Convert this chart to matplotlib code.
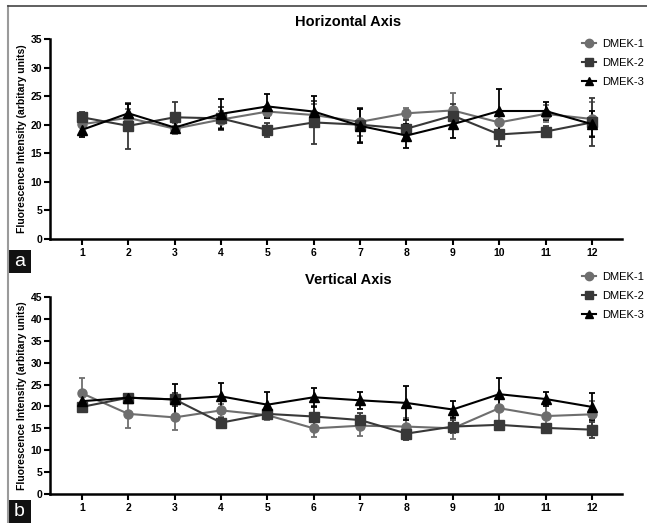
import matplotlib
matplotlib.use("Agg")
import matplotlib.pyplot as plt
import numpy as np
from matplotlib.patches import Rectangle
from matplotlib.lines import Line2D

# positions along the axis
positions = np.arange(1, 13)
series_names = ["DMEK-1", "DMEK-2", "DMEK-3"]

# horizontal axis (panel a): means and SD
h_dmek1 = [20.1, 21.2, 19.3, 20.9, 22.3, 21.7, 20.5, 22.0, 22.5, 20.4, 21.9, 21.0]
h_dmek2 = [21.3, 19.8, 21.3, 21.1, 19.1, 20.4, 20.0, 19.3, 21.6, 18.3, 18.8, 20.4]
h_dmek3 = [19.1, 22.0, 19.5, 21.9, 23.2, 22.3, 19.8, 18.1, 20.1, 22.4, 22.4, 20.1]
h_sd1 = [1.5, 1.5, 1.0, 1.5, 1.0, 2.0, 2.5, 1.0, 3.0, 2.0, 1.5, 3.0]
h_sd2 = [1.0, 4.0, 2.7, 2.0, 1.2, 3.7, 3.0, 1.5, 2.0, 2.0, 0.9, 4.2]
h_sd3 = [1.2, 1.6, 1.0, 2.6, 2.1, 2.7, 3.0, 2.1, 2.5, 3.8, 1.5, 2.3]

# vertical axis (panel b): means and SD
v_dmek1 = [23.0, 18.3, 17.5, 19.1, 18.0, 15.0, 15.6, 15.4, 15.0, 19.6, 17.8, 18.2]
v_dmek2 = [19.9, 22.0, 21.6, 16.3, 18.3, 17.7, 16.9, 13.8, 15.4, 15.8, 15.1, 14.7]
v_dmek3 = [21.2, 22.0, 21.6, 22.3, 20.4, 22.1, 21.4, 20.8, 19.3, 22.8, 21.7, 19.9]
v_sd1 = [3.5, 3.3, 2.8, 1.5, 1.0, 2.0, 2.3, 2.0, 2.5, 3.0, 3.0, 3.0]
v_sd2 = [0.8, 0.5, 1.5, 1.0, 1.0, 2.5, 1.6, 1.5, 1.5, 0.6, 1.0, 1.8]
v_sd3 = [1.5, 0.5, 3.5, 3.0, 2.8, 2.2, 1.9, 3.9, 1.9, 3.8, 1.6, 3.1]

colors = ["#6e6e6e", "#383838", "#000000"]
markers = ["o", "s", "^"]

plt.rcParams['font.family'] = ['Liberation Sans', 'DejaVu Sans']

fig = plt.figure(figsize=(6.47, 5.23), dpi=100)
W, H = 647, 523


def px_axes(left, top, right, bottom):
    return fig.add_axes([left / W, 1 - bottom / H, (right - left) / W, (bottom - top) / H])


def draw_panel(ax, means, sds, ymax, title, title_y, legend_top):
    for m, s, c, mk in zip(means, sds, colors, markers):
        ax.errorbar(positions, m, yerr=s, color=c, marker=mk, markersize=6.5,
                    linewidth=1.5, elinewidth=1.3, capsize=2.5, capthick=1.3)
    ax.set_xlim(0.31, 12.65)
    ax.set_ylim(0, ymax)
    ax.set_xticks(positions)
    ax.set_yticks(np.arange(0, ymax + 1, 5))
    for sp in ["top", "right"]:
        ax.spines[sp].set_visible(False)
    for sp in ["left", "bottom"]:
        ax.spines[sp].set_linewidth(1.8)
    ax.tick_params(width=1.5, length=4, labelsize=7.5, pad=1.5)
    for lab in ax.get_xticklabels() + ax.get_yticklabels():
        lab.set_fontweight("bold")
    ax.xaxis.set_tick_params(pad=2.5)
    ax.set_ylabel("Fluorescence Intensity (arbitary units)", fontsize=7.5,
                  fontweight="bold", labelpad=3)
    fig.text(348 / W, 1 - title_y / H, title, ha="center", va="center",
             fontsize=10.5, fontweight="bold")
    handles = [Line2D([0], [0], color=c, marker=mk, markersize=6, linewidth=1.5)
               for c, mk in zip(colors, markers)]
    fig.legend(handles, series_names, loc="upper left",
               bbox_to_anchor=(582 / W, 1 - legend_top / H), frameon=False,
               fontsize=8, handlelength=1.3, handletextpad=0.5,
               labelspacing=0.8, borderaxespad=0, borderpad=0)


ax_a = px_axes(50, 39, 622, 239)
draw_panel(ax_a, [h_dmek1, h_dmek2, h_dmek3], [h_sd1, h_sd2, h_sd3],
           35, "Horizontal Axis", 22, 39)

ax_b = px_axes(50, 297, 622, 494)
draw_panel(ax_b, [v_dmek1, v_dmek2, v_dmek3], [v_sd1, v_sd2, v_sd3],
           45, "Vertical Axis", 280, 272)

# frame lines and panel letters
fig.add_artist(Line2D([8 / W, 8 / W], [0, 1 - 6 / H], color="#9a9a9a", linewidth=1.5))
fig.add_artist(Line2D([8 / W, 1], [1 - 6 / H, 1 - 6 / H], color="#444444", linewidth=1.2))
for letter, top in [("a", 250), ("b", 500)]:
    fig.add_artist(Rectangle((8 / W, 1 - (top + 23) / H), 23 / W, 23 / H,
                             facecolor="#111111", edgecolor="none"))
    fig.text(19.5 / W, 1 - (top + 12) / H, letter, color="white", fontsize=14,
             ha="center", va="center")

fig.savefig("out.png", dpi=100)
